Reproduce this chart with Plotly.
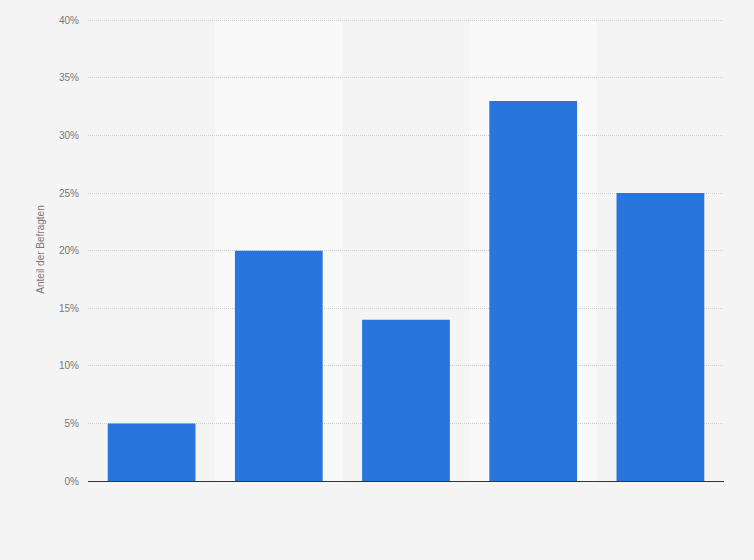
import plotly.graph_objects as go

# categories (x labels are not shown in the chart)
categories = ["A", "B", "C", "D", "E"]
shares = [5, 20, 14, 33, 25]
y_ticks = [0, 5, 10, 15, 20, 25, 30, 35, 40]
y_tick_labels = ["0%", "5%", "10%", "15%", "20%", "25%", "30%", "35%", "40%"]

bars = go.Bar(
    x=categories,
    y=shares,
    marker=dict(color="#2876dd", line=dict(width=0)),
    hovertemplate="%{y}%<extra></extra>",
)

# lighter background band behind every second column
bands = []
for i in range(1, len(categories), 2):
    bands.append(dict(
        type="rect", xref="x", yref="y",
        x0=i - 0.5, x1=i + 0.5, y0=0, y1=40,
        fillcolor="#f9f9f9", line=dict(width=0), layer="below",
    ))

layout = go.Layout(
    width=754, height=560,
    margin=dict(l=88, r=30, t=18, b=79),
    paper_bgcolor="#f4f4f4",
    plot_bgcolor="#f4f4f4",
    font=dict(family="Arial, Liberation Sans, sans-serif", size=10, color="#777777"),
    showlegend=False,
    bargap=0.31,
    shapes=bands,
    xaxis=dict(
        showticklabels=False, showgrid=False, ticks="",
        showline=True, linecolor="#333333", linewidth=1,
        range=[-0.5, len(categories) - 0.5],
    ),
    yaxis=dict(
        range=[0, 40.2],
        tickvals=y_ticks, ticktext=y_tick_labels,
        showgrid=True, gridcolor="#cfcfcf", griddash="1px,1px", gridwidth=1,
        zeroline=False, ticks="", ticklabelstandoff=8,
        title=dict(text="Anteil der Befragten", font=dict(size=10, color="#777777"), standoff=12),
    ),
)

fig = go.Figure(data=[bars], layout=layout)
# drop the page's default body margin so the figure fills the window
fig.write_html(
    "out.html",
    config={"displayModeBar": False},
    post_script="document.body.style.margin='0';document.body.style.background='#f4f4f4';",
)
